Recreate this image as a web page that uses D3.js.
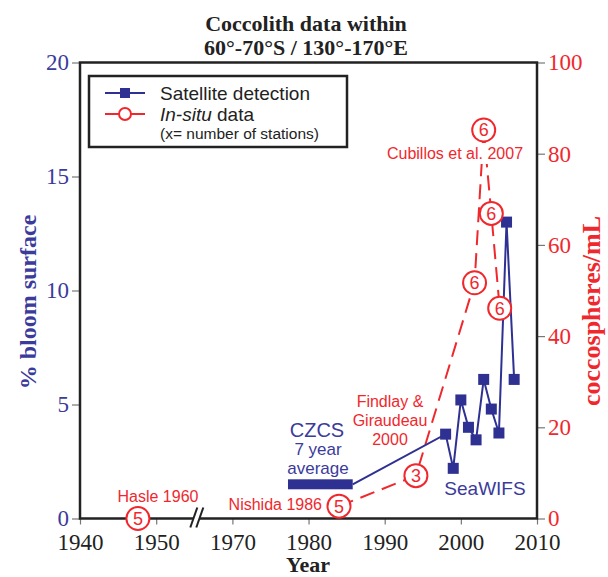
<!DOCTYPE html>
<html>
<head>
<meta charset="utf-8">
<script src="https://cdn.jsdelivr.net/npm/d3@7"></script>
<style>
  body { margin: 0; background: #fff; }
  svg { display: block; }
</style>
</head>
<body>
<svg id="chart" width="608" height="577"></svg>
<script>
// values
const yearTicks = [1940, 1950, 1970, 1980, 1990, 2000, 2010];
const bloomTicks = [0, 5, 10, 15, 20];
const cellTicks = [0, 20, 40, 60, 80, 100];

// satellite detection (% bloom surface)
const satYears = [1998, 1999, 2000, 2001, 2002, 2003, 2004, 2005, 2006, 2007];
const satBloom = [3.7, 2.2, 5.2, 4.0, 3.45, 6.1, 4.8, 3.75, 13.0, 6.1];

// CZCS 7 year average bar
const czcsYears = [1977.3, 1985.8];
const czcsBloom = 1.5;

// in-situ data (coccospheres/mL), number of stations inside circles
const insituYears = [1984, 1994.1, 2001.8, 2003, 2004, 2005.1];
const insituCells = [2.7, 9.4, 51.7, 85.2, 66.9, 46.1];
const insituStations = [5, 3, 6, 6, 6, 6];

// Hasle 1960, drawn left of the axis break
const hasleYear = [1947.6];
const hasleCells = [0];
const hasleStations = [5];

const blue = "#2e3192", blueText = "#3b3b9b", red = "#f0282d";
const serif = "'Liberation Serif', 'DejaVu Serif', serif";
const sans = "'Liberation Sans', Arial, sans-serif";

const svg = d3.select("#chart");

// broken x axis: 1950 -> 1970 takes one tick slot
const x = d3.scaleLinear().domain([1940, 1950, 1970, 2010]).range([80, 156.2, 232.4, 537]);
const yL = d3.scaleLinear().domain([0, 20]).range([518.5, 62.5]);
const yR = d3.scaleLinear().domain([0, 100]).range([518.5, 62.5]);

// title
svg.append("text").attr("x", 306).attr("y", 31).attr("text-anchor", "middle")
  .attr("font-family", serif).attr("font-weight", "bold").attr("font-size", 22).attr("fill", "#222")
  .text("Coccolith data within");
svg.append("text").attr("x", 306).attr("y", 55).attr("text-anchor", "middle")
  .attr("font-family", serif).attr("font-weight", "bold").attr("font-size", 22).attr("fill", "#222")
  .text("60°-70°S / 130°-170°E");

// axes
const gx = svg.append("g").attr("transform", `translate(0,${yL(0)})`)
  .call(d3.axisBottom(x).tickValues(yearTicks).tickFormat(d3.format("d")).tickSize(6).tickPadding(9));
const gl = svg.append("g").attr("transform", `translate(${x(1940)},0)`)
  .call(d3.axisLeft(yL).tickValues(bloomTicks).tickSize(8).tickPadding(3));
const gr = svg.append("g").attr("transform", `translate(${x(2010)},0)`)
  .call(d3.axisRight(yR).tickValues(cellTicks).tickSize(8).tickPadding(3));

[gx, gl, gr].forEach(g => {
  g.select(".domain").remove();
  g.selectAll(".tick line").attr("stroke", "#777").attr("stroke-width", 1.2);
  g.selectAll("text").attr("font-family", serif).attr("font-size", 23);
});
gx.selectAll("text").attr("fill", "#222");
gl.selectAll("text").attr("fill", blueText);
gr.selectAll("text").attr("fill", red);

// frame
svg.append("rect")
  .attr("x", x(1940)).attr("y", yL(20))
  .attr("width", x(2010) - x(1940)).attr("height", yL(0) - yL(20))
  .attr("fill", "none").attr("stroke", "#222").attr("stroke-width", 2.5);

// axis break marks
const bx = x(1960), by = yL(0);
svg.append("polygon")
  .attr("points", `${bx - 4},${by + 9} ${bx + 3},${by - 11} ${bx + 9},${by - 11} ${bx + 2},${by + 9}`)
  .attr("fill", "#fff");
[[-4, 3], [2, 9]].forEach(([a, b]) => {
  svg.append("line")
    .attr("x1", bx + a).attr("y1", by + 9).attr("x2", bx + b).attr("y2", by - 11)
    .attr("stroke", "#222").attr("stroke-width", 2);
});

// axis titles
svg.append("text")
  .attr("transform", `translate(36,302) rotate(-90)`).attr("text-anchor", "middle")
  .attr("font-family", serif).attr("font-weight", "bold").attr("font-size", 24).attr("fill", blueText)
  .text("% bloom surface");
svg.append("text")
  .attr("transform", `translate(600,311) rotate(-90)`).attr("text-anchor", "middle")
  .attr("font-family", serif).attr("font-weight", "bold").attr("font-size", 26).attr("fill", red)
  .text("coccospheres/mL");
svg.append("text")
  .attr("x", 308).attr("y", 572).attr("text-anchor", "middle")
  .attr("font-family", serif).attr("font-weight", "bold").attr("font-size", 22).attr("fill", "#222")
  .text("Year");

// in-situ dashed line
const insitu = insituYears.map((d, i) => ({ year: d, cells: insituCells[i], n: insituStations[i] }));
const redLine = d3.line().x(d => x(d.year)).y(d => yR(d.cells));
svg.append("path").datum(insitu)
  .attr("d", redLine).attr("fill", "none")
  .attr("stroke", red).attr("stroke-width", 2).attr("stroke-dasharray", "15,8");

// satellite line
const sat = satYears.map((d, i) => ({ year: d, bloom: satBloom[i] }));
const blueLine = d3.line().x(d => x(d.year)).y(d => yL(d.bloom));
svg.append("path").datum([{ year: czcsYears[1], bloom: czcsBloom }].concat(sat))
  .attr("d", blueLine).attr("fill", "none")
  .attr("stroke", blue).attr("stroke-width", 2);

svg.append("rect")
  .attr("x", x(czcsYears[0])).attr("y", yL(czcsBloom) - 5)
  .attr("width", x(czcsYears[1]) - x(czcsYears[0])).attr("height", 10)
  .attr("fill", blue);

svg.selectAll("rect.sq").data(sat).join("rect").attr("class", "sq")
  .attr("x", d => x(d.year) - 5.5).attr("y", d => yL(d.bloom) - 5.5)
  .attr("width", 11).attr("height", 11).attr("fill", blue);

// text annotations
function note(lines, cx, y0, size, color, anchor = "middle", dy = 0) {
  lines.forEach((t, i) => {
    svg.append("text").attr("x", cx).attr("y", y0 + i * dy)
      .attr("text-anchor", anchor)
      .attr("font-family", sans).attr("font-size", size).attr("fill", color)
      .text(t);
  });
}
// white patch under Cubillos label hides the dashes
svg.append("rect").attr("x", 386).attr("y", 143).attr("width", 138).attr("height", 21).attr("fill", "#fff");
note(["Cubillos et al. 2007"], 455, 159, 16, red);
note(["Findlay &", "Giraudeau", "2000"], 390, 407, 16, red, "middle", 19);
note(["Nishida 1986"], 322, 510, 16, red, "end");
note(["Hasle 1960"], 158, 502, 16, red);

note(["CZCS"], 317, 437, 20, blueText);
note(["7 year"], 318, 455, 17, blueText);
note(["average"], 318, 473.5, 17, blueText);
note(["SeaWIFS"], 485, 495, 19, blueText);

// station circles
const circles = insitu.concat(hasleYear.map((d, i) => ({ year: d, cells: hasleCells[i], n: hasleStations[i] })));
const cg = svg.selectAll("g.st").data(circles).join("g").attr("class", "st")
  .attr("transform", d => `translate(${x(d.year)},${yR(d.cells)})`);
cg.append("circle").attr("r", 11.5).attr("fill", "#fff").attr("stroke", red).attr("stroke-width", 2);
cg.append("text").attr("text-anchor", "middle").attr("dy", "0.36em")
  .attr("font-family", sans).attr("font-size", 18).attr("fill", red)
  .text(d => d.n);

// legend
const lg = svg.append("g");
lg.append("rect").attr("x", 89).attr("y", 76).attr("width", 258).attr("height", 71)
  .attr("fill", "#fff").attr("stroke", "#222").attr("stroke-width", 2.5);
lg.append("line").attr("x1", 105).attr("x2", 145).attr("y1", 93).attr("y2", 93)
  .attr("stroke", blue).attr("stroke-width", 2);
lg.append("rect").attr("x", 120).attr("y", 88).attr("width", 10).attr("height", 10).attr("fill", blue);
lg.append("line").attr("x1", 105).attr("x2", 145).attr("y1", 114).attr("y2", 114)
  .attr("stroke", red).attr("stroke-width", 2);
lg.append("circle").attr("cx", 125).attr("cy", 114).attr("r", 6)
  .attr("fill", "#fff").attr("stroke", red).attr("stroke-width", 2);
lg.append("text").attr("x", 160).attr("y", 99.5)
  .attr("font-family", sans).attr("font-size", 19).attr("fill", "#222")
  .text("Satellite detection");
const t2 = lg.append("text").attr("x", 160).attr("y", 120.5)
  .attr("font-family", sans).attr("font-size", 19).attr("fill", "#222");
t2.append("tspan").attr("font-style", "italic").text("In-situ");
t2.append("tspan").text(" data");
lg.append("text").attr("x", 160).attr("y", 139)
  .attr("font-family", sans).attr("font-size", 15.5).attr("fill", "#222")
  .text("(x= number of stations)");
</script>
</body>
</html>
